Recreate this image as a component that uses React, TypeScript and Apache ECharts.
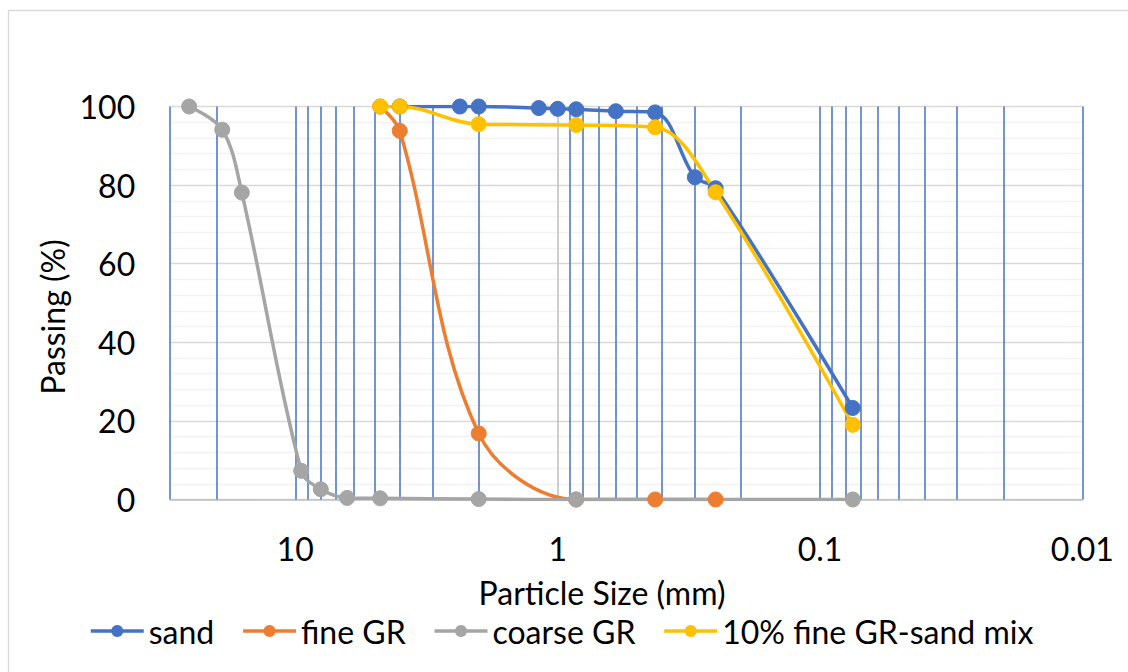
import React, { useEffect, useRef } from "react";
import * as echarts from "echarts";

// Sieve sizes (mm) and percent passing for each material
const sandSize = [4, 2.36, 2, 1.18, 1, 0.85, 0.6, 0.425, 0.3, 0.25, 0.075];
const sandPassing = [100, 100, 100, 99.6, 99.4, 99.3, 98.8, 98.5, 82.0, 79.2, 23.3];

const fineSize = [4.75, 4, 2, 0.85, 0.425, 0.25];
const finePassing = [100, 93.8, 16.8, 0, 0, 0];

const coarseSize = [25.4, 19, 16, 9.5, 8, 6.35, 4.75, 2, 0.85, 0.075];
const coarsePassing = [100, 94.1, 78.1, 7.3, 2.6, 0.4, 0.3, 0.1, 0, 0];

const mixSize = [4.75, 4, 2, 0.85, 0.425, 0.25, 0.075];
const mixPassing = [100, 100, 95.5, 95.3, 94.7, 78.2, 19.0];

// Logarithmic minor grid (every integer multiple within each decade)
const minorGridSizes = [
  30, 20, 10, 9, 8, 7, 6, 5, 4, 3, 2,
  0.9, 0.8, 0.7, 0.6, 0.5, 0.4, 0.3, 0.2, 0.1,
  0.09, 0.08, 0.07, 0.06, 0.05, 0.04, 0.03, 0.02, 0.01,
];
const axisCrossSize = 1;

const seriesNames = ["sand", "fine GR", "coarse GR", "10% fine GR-sand mix"];
const seriesColors = ["#4472C4", "#ED7D31", "#A5A5A5", "#FFC000"];

const pairs = (xs: number[], ys: number[]) => xs.map((x, i) => [x, ys[i]]);

const FONT = "Lato, 'Open Sans', sans-serif";

export default function App() {
  const ref = useRef<HTMLDivElement>(null);

  useEffect(() => {
    document.body.style.margin = "0";
    const chart = echarts.init(ref.current!, null, { renderer: "svg" });

    const curve = (idx: number, data: number[][]) => ({
      name: seriesNames[idx],
      type: "line",
      data,
      smooth: 0.35,
      symbol: "circle",
      symbolSize: 15,
      z: 3,
      itemStyle: { color: seriesColors[idx], borderColor: seriesColors[idx] },
      lineStyle: { color: seriesColors[idx], width: 3.5 },
    });

    chart.setOption({
      animation: false,
      grid: { left: 170.2, right: 45.7, top: 106.5, bottom: 172.5 },
      xAxis: {
        type: "log",
        logBase: 10,
        min: 0.01,
        max: 30,
        inverse: true,
        axisLine: { show: true, onZero: false, lineStyle: { color: "#BFBFBF", width: 1.5 } },
        axisTick: { show: false },
        splitLine: { show: false },
        axisLabel: {
          showMaxLabel: false,
          showMinLabel: true,
          margin: 33,
          fontFamily: FONT,
          fontSize: 32,
          color: "#000",
        },
      },
      yAxis: {
        type: "value",
        min: 0,
        max: 100,
        interval: 20,
        axisLine: { show: false },
        axisTick: { show: false },
        axisLabel: { margin: 35, fontFamily: FONT, fontSize: 32, color: "#000" },
        splitLine: { lineStyle: { color: "#D9D9D9", width: 1.3 } },
        minorTick: { show: false, splitNumber: 5 },
        minorSplitLine: { show: true, lineStyle: { color: "#F2F2F2", width: 1.3 } },
      },
      legend: {
        data: seriesNames,
        left: 84,
        top: 610,
        itemWidth: 53,
        itemHeight: 15,
        itemGap: 27,
        lineStyle: { width: 3.5 },
        textStyle: { fontFamily: FONT, fontSize: 32, color: "#000" },
      },
      graphic: [
        {
          type: "rect",
          shape: { x: 8.5, y: 10.5, width: 1300, height: 800 },
          style: { fill: "none", stroke: "#D9D9D9", lineWidth: 1.3 },
          silent: true,
        },
        {
          type: "text",
          x: 602,
          y: 592,
          style: {
            text: "Particle Size (mm)",
            fontFamily: FONT,
            fontSize: 32,
            fill: "#000",
            textAlign: "center",
            textVerticalAlign: "middle",
          },
        },
        {
          type: "text",
          x: 52,
          y: 317,
          rotation: Math.PI / 2,
          style: {
            text: "Passing (%)",
            fontFamily: FONT,
            fontSize: 32,
            fill: "#000",
            textAlign: "center",
            textVerticalAlign: "middle",
          },
        },
      ],
      series: [
        {
          name: "gridlines",
          type: "line",
          data: [],
          silent: true,
          z: 1,
          markLine: {
            silent: true,
            z: 1,
            symbol: ["none", "none"],
            label: { show: false },
            lineStyle: { type: "solid", color: "#4472C4", width: 1.5 },
            data: [
              ...minorGridSizes.map((v) => ({ xAxis: v })),
              { xAxis: axisCrossSize, lineStyle: { type: "solid", color: "#BFBFBF", width: 1.5 } },
            ],
          },
        },
        curve(0, pairs(sandSize, sandPassing)),
        curve(1, pairs(fineSize, finePassing)),
        curve(2, pairs(coarseSize, coarsePassing)),
        curve(3, pairs(mixSize, mixPassing)),
      ],
    });

    return () => chart.dispose();
  }, []);

  return <div ref={ref} style={{ width: 1128, height: 672 }} />;
}
